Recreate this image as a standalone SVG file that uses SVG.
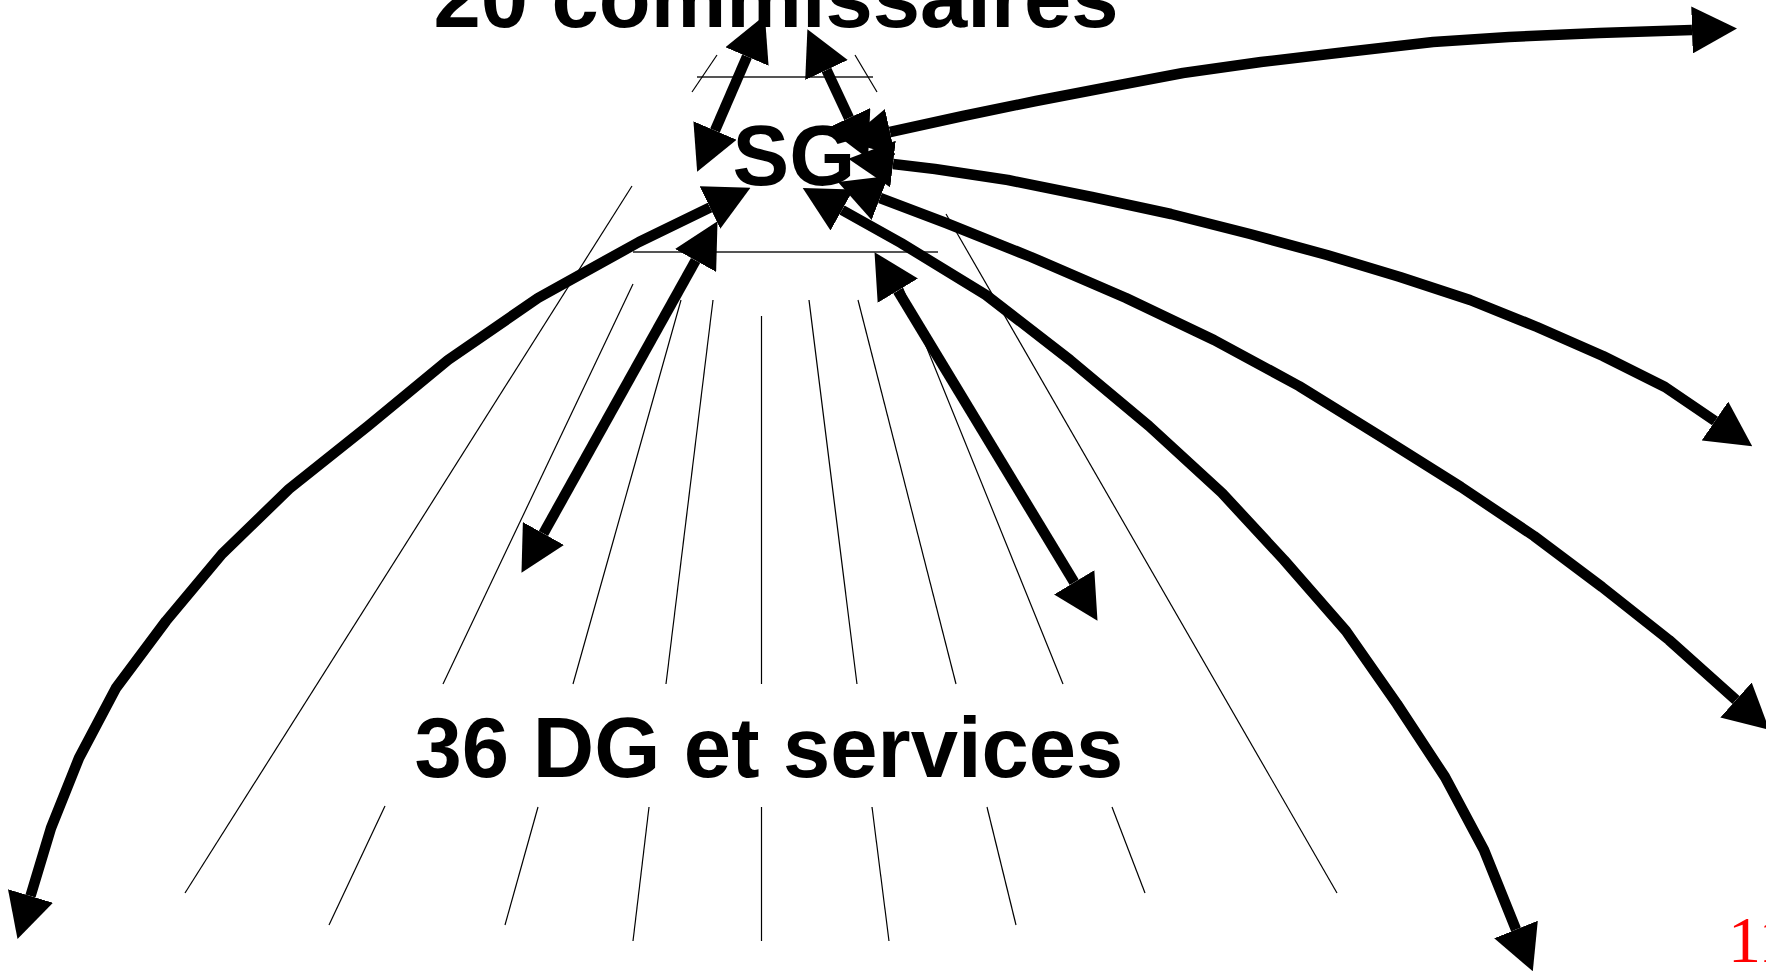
<svg xmlns="http://www.w3.org/2000/svg" width="1766" height="971" viewBox="0 0 1766 971">
<style>
.t{font-family:"Liberation Sans",Arial,sans-serif;font-weight:bold;font-size:85px;fill:#000;text-anchor:middle}
.thin{stroke:#000;stroke-width:1.2;fill:none}
.gray{stroke:#555;stroke-width:2;fill:none}
.arr{stroke:#000;stroke-width:10.5;fill:none;stroke-linejoin:round;marker-end:url(#ah)}
.dbl{marker-start:url(#ah)}
</style>
<defs>
<marker id="ah" markerUnits="userSpaceOnUse" markerWidth="45" markerHeight="47" viewBox="0 0 45 47" refX="0" refY="23.5" orient="auto-start-reverse"><path d="M0,0 L45,23.5 L0,47 Z" fill="#000"/></marker>
</defs>
<rect width="1766" height="971" fill="#fff"/>
<g id="guides">
<line class="gray" x1="697" y1="77" x2="873" y2="77"/>
<line class="gray" x1="633" y1="252" x2="938" y2="252"/>
<line class="thin" x1="717" y1="55" x2="692" y2="92"/>
<line class="thin" x1="855" y1="55" x2="877" y2="92"/>
<line class="thin" x1="632" y1="186" x2="185" y2="893"/>
<line class="thin" x1="946" y1="214" x2="1337" y2="893"/>
<line class="thin" x1="633" y1="284" x2="443" y2="684"/>
<line class="thin" x1="681" y1="300" x2="573" y2="684"/>
<line class="thin" x1="713" y1="300" x2="666" y2="684"/>
<line class="thin" x1="761.5" y1="316" x2="761.5" y2="684"/>
<line class="thin" x1="809" y1="300" x2="857" y2="684"/>
<line class="thin" x1="858" y1="300" x2="956" y2="684"/>
<line class="thin" x1="901" y1="284" x2="1063" y2="684"/>
<line class="thin" x1="385" y1="806" x2="329" y2="925"/>
<line class="thin" x1="538" y1="807" x2="505" y2="925"/>
<line class="thin" x1="649" y1="807" x2="633" y2="941"/>
<line class="thin" x1="761.5" y1="807" x2="761.5" y2="941"/>
<line class="thin" x1="872" y1="807" x2="889" y2="941"/>
<line class="thin" x1="987" y1="807" x2="1016" y2="925"/>
<line class="thin" x1="1112" y1="807" x2="1145" y2="893"/>
</g>
<g id="commissaires"><text class="t" x="776" y="27">20 commissaires</text></g>
<g id="sg"><text class="t" x="794" y="185">SG</text></g>
<g id="dg"><text class="t" x="769" y="777">36 DG et services</text></g>
<g id="connectors">
<path class="arr dbl" d="M715,130.5 L747,56.5"/>
<path class="arr dbl" d="M849,118 L826.5,70"/>
<path class="arr dbl" d="M695.6,260.5 L543.4,533.5"/>
<path class="arr dbl" d="M897.8,290.7 L1074.2,582.3"/>
<path class="arr dbl" d="M710,207.5 L639,242 L538,298 L448,360 L368,426 L289,489 L222,554 L166,621 L116,688 L79,758 L51,828 L30.5,896"/>
<path class="arr dbl" d="M890,132 L963,116 L1036,101 L1109,87 L1183,73 L1261,62 L1346,52 L1433,42 L1509,37 L1599,33 L1692,30"/>
<path class="arr dbl" d="M893,164 L935,169 L1008,180 L1092,197 L1171,214 L1250,234 L1327,255 L1400,277 L1470,300 L1537,327 L1603,356 L1665,387 L1715,421"/>
<path class="arr dbl" d="M880,198 L946,223 L1031,257 L1126,298 L1214,340 L1299,386 L1383,438 L1461,487 L1534,536 L1602,587 L1669,640 L1736,700"/>
<path class="arr dbl" d="M842,210 L901,243 L986,295 L1070,360 L1149,426 L1222,493 L1284,560 L1346,631 L1397,704 L1445,777 L1484,850 L1516,929.5"/>
</g>
<g id="pagenum"><text x="1728" y="962" style="font-family:'Liberation Serif','Times New Roman',serif;font-size:66px;fill:#f00">11</text></g>
</svg>
